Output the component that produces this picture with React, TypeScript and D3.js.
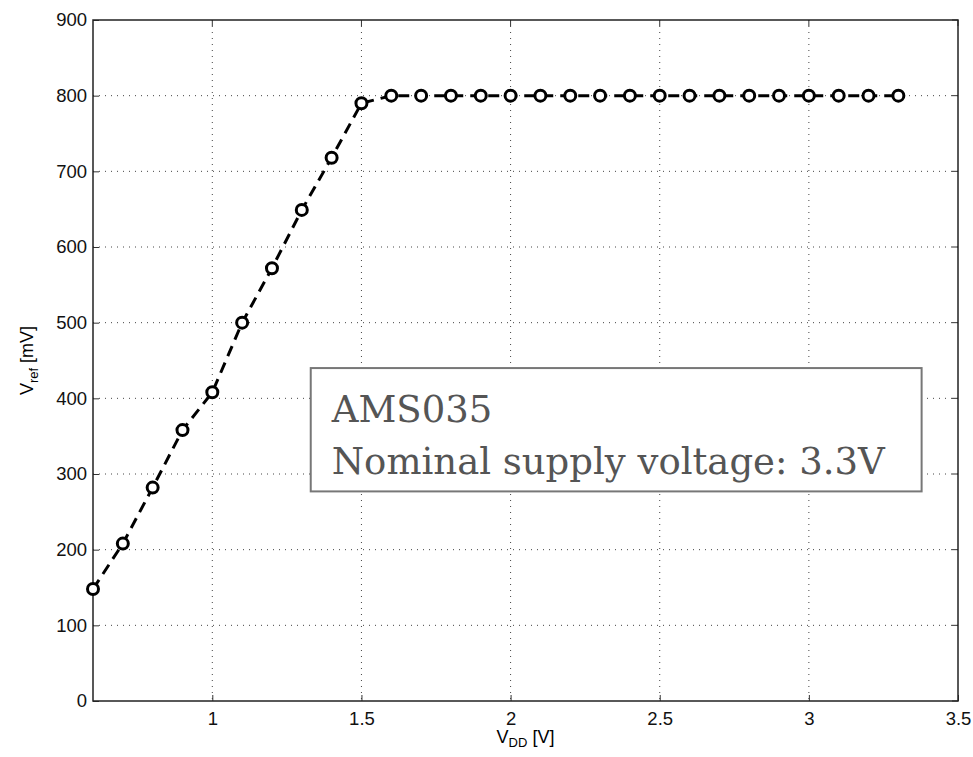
import React, { useEffect, useRef } from "react";
import * as d3 from "d3";

// supply voltage sweep [V]
const vdd = [0.6, 0.7, 0.8, 0.9, 1.0, 1.1, 1.2, 1.3, 1.4, 1.5, 1.6, 1.7, 1.8, 1.9, 2.0, 2.1, 2.2, 2.3, 2.4, 2.5, 2.6, 2.7, 2.8, 2.9, 3.0, 3.1, 3.2, 3.3];
// reference voltage [mV]
const vref = [148, 208, 282, 358, 408, 500, 572, 649, 718, 790, 800, 800, 800, 800, 800, 800, 800, 800, 800, 800, 800, 800, 800, 800, 800, 800, 800, 800];

const xTicks = [1, 1.5, 2, 2.5, 3, 3.5];
const yTicks = [0, 100, 200, 300, 400, 500, 600, 700, 800, 900];
const noteLines = ["AMS035", "Nominal supply voltage: 3.3V"];

const App = () => {
  const ref = useRef<SVGSVGElement>(null);

  useEffect(() => {
    const width = 973;
    const height = 757;
    const margin = { top: 20, right: 15, bottom: 56, left: 93 };
    const innerWidth = width - margin.left - margin.right;
    const innerHeight = height - margin.top - margin.bottom;

    const svg = d3.select(ref.current).attr("width", width).attr("height", height);
    svg.selectAll("*").remove();

    const g = svg.append("g").attr("transform", `translate(${margin.left}, ${margin.top})`);

    const x = d3.scaleLinear().domain([0.6, 3.5]).range([0, innerWidth]);
    const y = d3.scaleLinear().domain([0, 900]).range([innerHeight, 0]);

    // grid
    g.append("g").selectAll("line")
      .data(xTicks.filter(d => d < 3.5))
      .enter().append("line")
      .attr("x1", d => x(d)).attr("x2", d => x(d))
      .attr("y1", 0).attr("y2", innerHeight)
      .attr("stroke", "#444").attr("stroke-width", 1)
      .attr("stroke-dasharray", "1,5");
    g.append("g").selectAll("line")
      .data(yTicks.filter(d => d > 0 && d < 900))
      .enter().append("line")
      .attr("x1", 0).attr("x2", innerWidth)
      .attr("y1", d => y(d)).attr("y2", d => y(d))
      .attr("stroke", "#444").attr("stroke-width", 1)
      .attr("stroke-dasharray", "1,5");

    // axes (inward ticks)
    const xAxis = g.append("g").attr("transform", `translate(0, ${innerHeight})`)
      .call(d3.axisBottom(x).tickValues(xTicks).tickSize(-6).tickPadding(11).tickFormat(d3.format("")));
    const yAxis = g.append("g")
      .call(d3.axisLeft(y).tickValues(yTicks).tickSize(-6).tickPadding(6));
    [xAxis, yAxis].forEach(a => {
      a.select(".domain").remove();
      a.selectAll("line").attr("stroke", "#333");
      a.selectAll("text").attr("font-family", "Liberation Sans, Arial, sans-serif")
        .attr("font-size", 18.5).attr("fill", "#111");
    });

    // top / right ticks
    g.append("g").selectAll("line").data(xTicks).enter().append("line")
      .attr("x1", d => x(d)).attr("x2", d => x(d)).attr("y1", 0).attr("y2", 6)
      .attr("stroke", "#333");
    g.append("g").selectAll("line").data(yTicks).enter().append("line")
      .attr("x1", innerWidth).attr("x2", innerWidth - 6).attr("y1", d => y(d)).attr("y2", d => y(d))
      .attr("stroke", "#333");

    // box
    g.append("rect")
      .attr("x", 0).attr("y", 0)
      .attr("width", innerWidth).attr("height", innerHeight)
      .attr("fill", "none").attr("stroke", "#222").attr("stroke-width", 1.5);

    // line
    const pts = vdd.map((v, i) => [v, vref[i]] as [number, number]);
    const line = d3.line<[number, number]>().x(d => x(d[0])).y(d => y(d[1]));
    g.append("path")
      .datum(pts)
      .attr("d", line)
      .attr("fill", "none")
      .attr("stroke", "#000")
      .attr("stroke-width", 3)
      .attr("stroke-dasharray", "11,7");

    g.selectAll(".pt")
      .data(pts)
      .enter().append("circle")
      .attr("class", "pt")
      .attr("cx", d => x(d[0]))
      .attr("cy", d => y(d[1]))
      .attr("r", 5.5)
      .attr("fill", "#fff")
      .attr("stroke", "#000")
      .attr("stroke-width", 3);

    // annotation box
    const bx0 = x(1.33), bx1 = x(3.378), by0 = y(440), by1 = y(277);
    g.append("rect")
      .attr("x", bx0).attr("y", by0)
      .attr("width", bx1 - bx0).attr("height", by1 - by0)
      .attr("fill", "#fff").attr("stroke", "#777").attr("stroke-width", 2);
    g.append("g").selectAll("text")
      .data(noteLines)
      .enter().append("text")
      .attr("x", bx0 + 21)
      .attr("y", (d, i) => by0 + 54 + i * 52)
      .attr("font-family", "DejaVu Serif, serif")
      .attr("font-size", 37)
      .attr("fill", "#555")
      .text(d => d);

    // axis labels
    const xl = svg.append("text")
      .attr("text-anchor", "middle")
      .attr("x", margin.left + innerWidth / 2)
      .attr("y", 743)
      .attr("font-family", "Liberation Sans, Arial, sans-serif")
      .attr("font-size", 18);
    xl.append("tspan").text("V");
    xl.append("tspan").attr("dy", 4).attr("font-size", 13).text("DD");
    xl.append("tspan").attr("dy", -4).text(" [V]");

    const yl = svg.append("text")
      .attr("text-anchor", "middle")
      .attr("transform", `translate(33, ${margin.top + innerHeight / 2}) rotate(-90)`)
      .attr("font-family", "Liberation Sans, Arial, sans-serif")
      .attr("font-size", 18);
    yl.append("tspan").text("V");
    yl.append("tspan").attr("dy", 5).attr("font-size", 13).text("ref");
    yl.append("tspan").attr("dy", -5).text(" [mV]");
  }, []);

  return (
    <svg ref={ref} style={{ position: "absolute", left: 0, top: 0, background: "#fff" }}></svg>
  );
};

export default App;
